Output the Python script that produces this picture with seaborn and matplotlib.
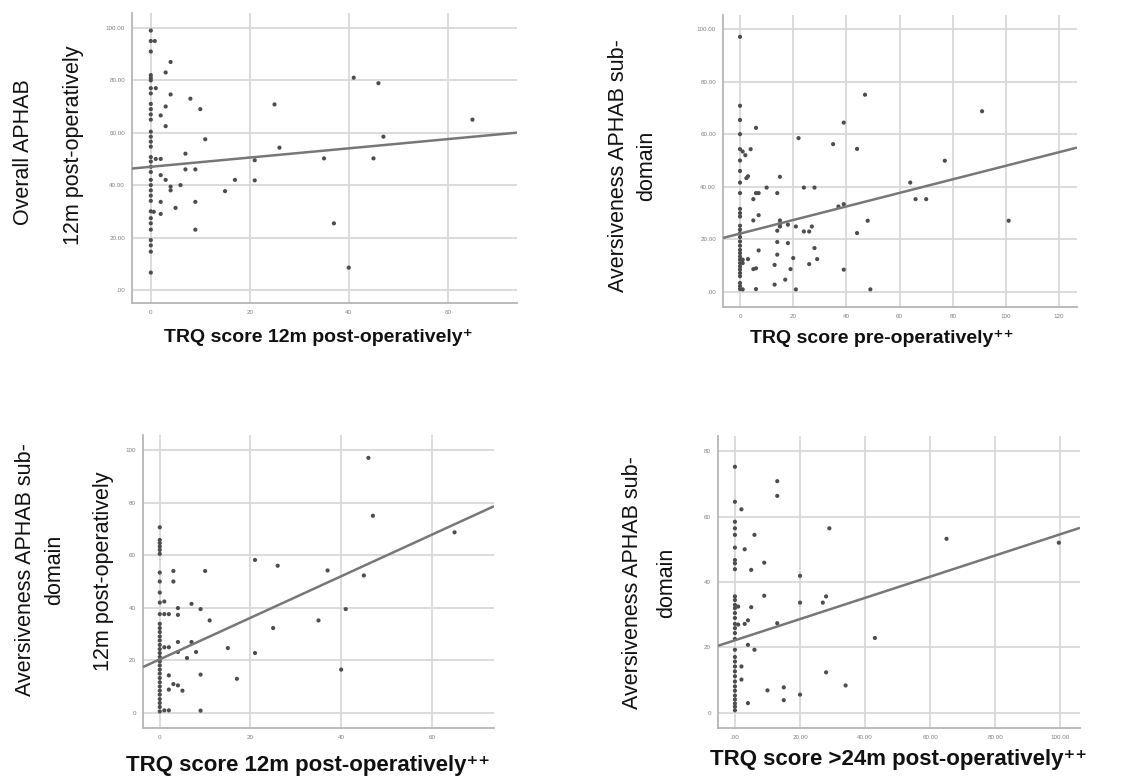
import matplotlib
matplotlib.use("Agg")
import matplotlib.pyplot as plt
import seaborn as sns
import pandas as pd
import numpy as np

# ---------------- data ----------------
# Panel 1: TRQ 12m post-op vs Overall APHAB 12m post-op
p1_x = [0]*33 + [0.8, 3, 4, 1, 4, 8, 3, 10, 2, 3, 11, 7, 1, 2, 7, 9, 2, 3, 4, 4, 6, 0.6, 2, 2, 5, 9, 9,
                 15, 17, 21, 21, 25, 26, 35, 37, 40, 41, 45, 46, 47, 65]
p1_y = [99, 95, 91, 82, 81, 80, 77, 75, 71, 69, 67, 65, 60.4, 58.5, 56.6, 54.7, 50.7, 49, 47, 45, 42, 40,
        38, 36, 34, 30, 27.4, 25.4, 23, 19, 17, 14.6, 6.6,
        95, 83, 87, 77, 74.6, 73, 70, 69, 66.6, 62.5, 57.5, 52, 50, 50, 46, 46, 43.8, 42, 39.4, 38, 40,
        29.8, 29, 33.6, 31.3, 33.6, 23, 37.7, 42, 49.5, 41.8, 70.8, 54.3, 50.2, 25.4, 8.5, 81, 50.2,
        78.9, 58.5, 65]

# Panel 2: TRQ pre-op vs Aversiveness
p2_x = [0]*30 + [1, 2, 1, 1, 1, 2.4, 3, 3, 4, 5, 5, 5, 6, 6, 6, 7, 7, 7, 6, 10, 14, 15, 15, 15, 15, 14, 14,
                 14, 13, 13, 17, 18, 18, 19, 20, 21, 21, 22, 24, 24, 26, 26, 27, 28, 28, 29, 35, 37,
                 39, 39, 39, 44, 44, 47, 48, 49, 64, 66, 70, 77, 91, 101]
p2_y = [97, 70.8, 65.4, 60, 54.3, 50, 46, 41.6, 37.6, 31.6, 30, 28.7, 25.2, 23.7, 22.4, 20.9, 19.2, 17.6,
        16, 14.8, 13.5, 12.3, 11, 9.7, 8.5, 7.2, 6, 3.4, 2.2, 1.1,
        53.4, 52, 12.3, 11, 1, 43.3, 44, 12.5, 54.3, 35.3, 27.2, 8.7, 9, 62.4, 37.6, 37.6, 29.2, 15.8,
        1.1, 39.7, 37.6, 43.8, 27.2, 25.9, 24.9, 23.3, 19, 14.2, 10.3, 2.8, 4.7, 25.6, 18.6, 8.7, 12.9,
        24.9, 1, 58.5, 39.7, 23, 23, 10.6, 24.9, 39.7, 16.7, 12.5, 56.2, 32.5, 33.4, 64.4, 8.5, 22.4,
        54.4, 75, 27.1, 1, 41.6, 35.3, 35.3, 49.9, 68.7, 27.1]

# Panel 3: TRQ 12m post-op vs Aversiveness 12m post-op
p3_x = [0]*33 + [1, 1, 2, 1, 2, 2, 2, 1, 2, 3, 3, 3, 4, 4, 4, 4, 4, 5, 6, 7, 7, 8, 9, 9, 9, 10, 11, 15,
                 17, 21, 21, 25, 26, 35, 37, 40, 41, 45, 46, 47, 65]
p3_y = [70.6, 65.8, 64.6, 63.3, 62, 60.5, 53.4, 50, 45.8, 42, 37.6, 33.9, 32.3, 30.8, 29.1, 27.6, 25.9,
        24.3, 22.8, 21.3, 19.6, 18.1, 16.5, 15, 13.3, 11.7, 10.1, 8.5, 7, 5.3, 3.8, 2.3, 0.6,
        42.4, 37.6, 37.6, 25, 25, 14.3, 8.9, 1, 1, 54, 50, 11, 39.9, 37.3, 27, 23.2, 10.5, 8.5, 20.9,
        41.5, 27, 23.2, 39.5, 14.6, 0.9, 54, 35.2, 24.7, 13, 58.2, 22.8, 32.3, 56, 35.2, 54.2, 16.5,
        39.5, 52.3, 97, 75, 68.7]

# Panel 4: TRQ >24m post-op vs Aversiveness
p4_x = [0]*33 + [2, 3, 6, 9, 5, 9, 5, 4, 3, 1, 1, 4, 6, 2, 2, 4, 10, 13, 13, 13, 15, 15, 20, 20, 20,
                 27, 28, 29, 28, 34, 43, 65, 99.5]
p4_y = [75.2, 64.5, 58.4, 56.4, 54.4, 50.5, 46.7, 45.7, 43.9, 35.6, 34.5, 33, 32, 30.5, 29, 27.2, 25.9,
        24.4, 22.6, 19.3, 17.1, 15.7, 14.2, 12.7, 11.2, 9.6, 8.1, 6.8, 5.3, 4.1, 2.9, 1.9, 0.8,
        62.2, 50, 54.4, 45.9, 43.7, 35.8, 32.3, 28.3, 27.2, 32.5, 27, 20.8, 19.3, 14.2, 10.2, 3, 6.9,
        70.8, 66.3, 27.4, 7.8, 3.9, 41.9, 33.7, 5.6, 33.7, 35.6, 56.4, 12.4, 8.4, 22.9, 53.2, 52]

# Fitted regression lines (intercept, slope)
fit_intercepts = [47.0, 22.2, 20.4, 22.2]
fit_slopes = [0.176, 0.258, 0.79, 0.324]

# Tick values / labels
p1_xticks = [0, 20, 40, 60]
p1_xlabels = ["0", "20", "40", "60"]
p2_xticks = [0, 20, 40, 60, 80, 100, 120]
p2_xlabels = ["0", "20", "40", "60", "80", "100", "120"]
p3_xticks = [0, 20, 40, 60]
p3_xlabels = ["0", "20", "40", "60"]
p4_xticks = [0, 20, 40, 60, 80, 100]
p4_xlabels = [".00", "20.00", "40.00", "60.00", "80.00", "100.00"]
y100_ticks = [0, 20, 40, 60, 80, 100]
y100_labels = [".00", "20.00", "40.00", "60.00", "80.00", "100.00"]
p3_ylabels = ["0", "20", "40", "60", "80", "100"]
p4_yticks = [0, 20, 40, 60, 80]
p4_ylabels = ["0", "20", "40", "60", "80"]

xlabels = ["TRQ score 12m post-operatively\u207a",
           "TRQ score pre-operatively\u207a\u207a",
           "TRQ score 12m post-operatively\u207a\u207a",
           "TRQ score >24m post-operatively\u207a\u207a"]

# ---------------- plotting ----------------
sns.set_style("white")
plt.rcParams['font.family'] = ['Liberation Sans', 'DejaVu Sans']

W, H = 1129, 778
fig = plt.figure(figsize=(W / 100, H / 100), dpi=100)
fig.patch.set_facecolor("white")


def add_ax(left, top, right, bottom):
    return fig.add_axes([left / W, 1 - bottom / H, (right - left) / W, (bottom - top) / H])


panels = [
    dict(box=(132, 13, 517, 303), x=p1_x, y=p1_y, xlim=(-3.8, 74), ylim=(-5, 105.7),
         xt=p1_xticks, xtl=p1_xlabels, yt=y100_ticks, ytl=y100_labels),
    dict(box=(723, 15, 1077, 307), x=p2_x, y=p2_y, xlim=(-6.4, 126.7), ylim=(-5.7, 105.3),
         xt=p2_xticks, xtl=p2_xlabels, yt=y100_ticks, ytl=y100_labels),
    dict(box=(143, 435, 494, 728), x=p3_x, y=p3_y, xlim=(-3.7, 73.7), ylim=(-5.7, 105.7),
         xt=p3_xticks, xtl=p3_xlabels, yt=y100_ticks, ytl=p3_ylabels),
    dict(box=(718, 436, 1080, 728), x=p4_x, y=p4_y, xlim=(-5.2, 106), ylim=(-4.6, 84.6),
         xt=p4_xticks, xtl=p4_xlabels, yt=p4_yticks, ytl=p4_ylabels),
]

grid_c = "#d9d9d9"
for i, p in enumerate(panels):
    ax = add_ax(*p["box"])
    df = pd.DataFrame({"x": p["x"], "y": p["y"]})
    ax.set_xlim(*p["xlim"])
    ax.set_ylim(*p["ylim"])
    ax.set_xticks(p["xt"])
    ax.set_xticklabels(p["xtl"])
    ax.set_yticks(p["yt"])
    ax.set_yticklabels(p["ytl"])
    ax.grid(True, color=grid_c, linewidth=1.3)
    ax.set_axisbelow(True)
    for s in ["top", "right"]:
        ax.spines[s].set_visible(False)
    for s in ["left", "bottom"]:
        ax.spines[s].set_color("#b5b5b5")
        ax.spines[s].set_linewidth(1.3)
    ax.tick_params(axis="both", labelsize=4.5, colors="#a0a0a0", length=2, width=0.8,
                   labelcolor="#808080", pad=3)
    sns.scatterplot(data=df, x="x", y="y", ax=ax, s=9, color="#4d4d4d", edgecolor="none",
                    linewidth=0, zorder=3)
    xs = np.array(p["xlim"])
    ax.plot(xs, fit_intercepts[i] + fit_slopes[i] * xs, color="#777777", linewidth=1.8, zorder=4,
            solid_capstyle="butt")
    ax.set_xlabel("")
    ax.set_ylabel("")

# y-axis labels
ylab_kw = dict(rotation=90, ha="center", va="center", color="#111111", fontsize=15.5)
fig.text(24 / W, 1 - 152 / H, "Overall APHAB", **ylab_kw)
fig.text(74 / W, 1 - 145 / H, "12m post-operatively", **ylab_kw)

fig.text(619 / W, 1 - 166 / H, "Aversiveness APHAB sub-", **ylab_kw)
fig.text(647 / W, 1 - 166 / H, "domain", **ylab_kw)

fig.text(26 / W, 1 - 570 / H, "Aversiveness APHAB sub-", **ylab_kw)
fig.text(55 / W, 1 - 570 / H, "domain", **ylab_kw)
fig.text(103 / W, 1 - 571 / H, "12m post-operatively", **ylab_kw)

fig.text(633 / W, 1 - 583 / H, "Aversiveness APHAB sub-", **ylab_kw)
fig.text(667 / W, 1 - 583 / H, "domain", **ylab_kw)

# x-axis labels
xl_kw = dict(ha="center", va="center", fontweight="bold", color="#111111")
fig.text(318 / W, 1 - 337 / H, xlabels[0], fontsize=14, **xl_kw)
fig.text(882 / W, 1 - 339 / H, xlabels[1], fontsize=14, **xl_kw)
fig.text(308 / W, 1 - 765 / H, xlabels[2], fontsize=16, **xl_kw)
fig.text(898 / W, 1 - 760 / H, xlabels[3], fontsize=16, **xl_kw)

fig.savefig("out.png", dpi=100, facecolor="white")
